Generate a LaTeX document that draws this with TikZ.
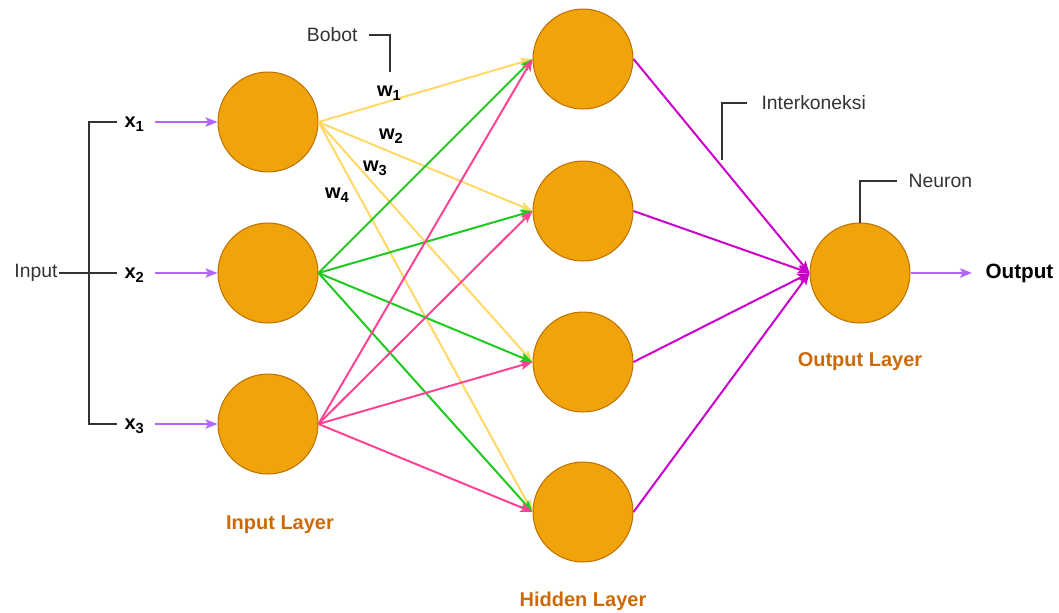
\documentclass[tikz,border=0pt]{standalone}
\usepackage{fontspec}
\setmainfont{Liberation Sans}
\usetikzlibrary{arrows.meta}
\definecolor{nfill}{HTML}{F0A30A}
\definecolor{nborder}{HTML}{BD7000}
\definecolor{cyel}{HTML}{FFD966}
\definecolor{cgrn}{HTML}{1FC91F}
\definecolor{cpink}{HTML}{FF4394}
\definecolor{cmag}{HTML}{CC00CC}
\definecolor{cpur}{HTML}{B266FF}
\definecolor{clab}{HTML}{CC6A0A}
\definecolor{cgray}{HTML}{333333}
\newcommand{\mysub}[1]{\raisebox{-0.35ex}{\fontsize{11}{12}\selectfont #1}}
\begin{document}
\begin{tikzpicture}[x=0.75pt,y=-0.75pt,
  neuron/.style={circle,draw=nborder,fill=nfill,line width=0.75pt,minimum size=75pt,inner sep=0pt},
  conn/.style={line width=1.5pt,-{Stealth[length=9pt,width=7pt,inset=2pt]}},
  callout/.style={draw=cgray,line width=0.9pt},
  plain/.style={font=\fontsize{14.5}{16}\selectfont,text=cgray,inner sep=1pt},
  xlab/.style={font=\fontsize{15}{16}\selectfont\bfseries,inner sep=1pt},
  wlab/.style={font=\fontsize{15}{16}\selectfont\bfseries,inner sep=1pt},
  layer/.style={font=\fontsize{15}{16}\selectfont\bfseries,text=clab}]
\useasboundingbox (0,0) rectangle (1059,612);
% neurons
\node[neuron] (i1) at (268,122) {};
\node[neuron] (i2) at (268,273) {};
\node[neuron] (i3) at (268,424) {};
\node[neuron] (h1) at (583,59) {};
\node[neuron] (h2) at (583,211) {};
\node[neuron] (h3) at (583,362) {};
\node[neuron] (h4) at (583,512) {};
\node[neuron] (o1) at (860,273) {};
% input to hidden
\foreach \h in {1,2,3,4} {
  \draw[conn,cyel] (i1.east) -- (h\h.west);
}
\foreach \h in {1,2,3,4} {
  \draw[conn,cgrn] (i2.east) -- (h\h.west);
}
\foreach \h in {1,2,3,4} {
  \draw[conn,cpink] (i3.east) -- (h\h.west);
}
% hidden to output
\foreach \h in {1,2,3,4} {
  \draw[conn,cmag] (h\h.east) -- (o1.west);
}
% inputs
\node[xlab,anchor=west] (x1) at (123,124) {x\mysub{1}};
\node[xlab,anchor=west] (x2) at (123,275) {x\mysub{2}};
\node[xlab,anchor=west] (x3) at (123,426) {x\mysub{3}};
\coordinate (x1e) at (155,122);
\coordinate (x2e) at (155,273);
\coordinate (x3e) at (155,424);
\draw[conn,cpur] (x1e) -- (i1.west);
\draw[conn,cpur] (x2e) -- (i2.west);
\draw[conn,cpur] (x3e) -- (i3.west);
% input bracket
\node[plain,anchor=east] (inp) at (59,273) {Input};
\coordinate (b1) at (117,122);
\coordinate (b2) at (117,273);
\coordinate (b3) at (117,424);
\draw[callout] (b1) -- (89,122) -- (89,424) -- (b3);
\draw[callout] (inp.east) -- (b2);
% output
\node[font=\fontsize{15.5}{17}\selectfont\bfseries,anchor=west,inner sep=1pt] (out) at (984,273) {Output};
\coordinate (oe) at (972,273);
\draw[conn,cpur] (o1.east) -- (oe);
% weights
\node[wlab] (w1) at (389,93) {w\mysub{1}};
\node[wlab] (w2) at (391,136) {w\mysub{2}};
\node[wlab] (w3) at (375,168) {w\mysub{3}};
\node[wlab] (w4) at (337,195) {w\mysub{4}};
% callouts
\node[plain,anchor=east] (bobot) at (359,35) {Bobot};
\coordinate (bb) at (390,72);
\draw[callout] (369,35) -- (390,35) -- (bb);
\node[plain,anchor=west] (ik) at (760,103) {Interkoneksi};
\coordinate (ikb) at (722,160);
\draw[callout] (747,103) -- (722,103) -- (ikb);
\node[plain,anchor=west] (nr) at (907,181) {Neuron};
\draw[callout] (897,181) -- (860,181) -- (o1.north);
% layer labels
\node[layer] (lin) at (280,525) {Input Layer};
\node[layer] (lhid) at (583,601) {Hidden Layer};
\node[layer] (lout) at (860,362) {Output Layer};
\end{tikzpicture}
\end{document}
